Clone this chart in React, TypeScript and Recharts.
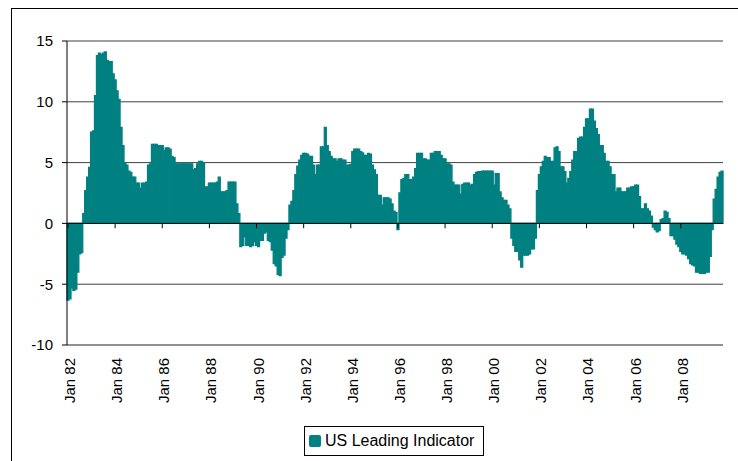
import React from "react";
import {
  BarChart,
  Bar,
  XAxis,
  YAxis,
  CartesianGrid,
  ReferenceLine,
} from "recharts";

const MONTHS = ["Jan", "Feb", "Mar", "Apr", "May", "Jun", "Jul", "Aug", "Sep", "Oct", "Nov", "Dec"];
const START_YEAR = 1982;

// 6-month growth of the US leading indicator, monthly from Jan 82
const VALUES: number[] = [
  -6.3, -6.2, -5.3, -5.5, -5.4, -4.0, -2.5, -2.4, 0.8, 2.7, 3.8, 4.6, // 82
  7.5, 7.6, 10.5, 13.8, 14.0, 13.9, 14.0, 14.1, 13.4, 13.3, 13.3, 12.3, // 83
  11.8, 10.9, 10.2, 7.9, 6.4, 5.0, 4.8, 4.3, 4.2, 3.8, 3.8, 3.3, // 84
  3.3, 2.9, 3.3, 3.3, 3.4, 4.8, 4.9, 6.5, 6.5, 6.5, 6.4, 6.4, // 85
  6.4, 6.0, 6.2, 6.2, 6.1, 5.5, 5.4, 4.9, 4.9, 4.9, 4.9, 5.0, // 86
  4.9, 4.9, 4.9, 4.9, 4.4, 4.5, 4.9, 5.1, 5.1, 5.0, 3.0, 3.0, // 87
  3.3, 3.3, 3.3, 3.3, 3.4, 3.8, 2.6, 2.6, 2.6, 2.7, 3.4, 3.4, // 88
  3.4, 3.4, 1.6, 0.8, -1.9, -1.8, -1.1, -1.8, -1.8, -1.9, -1.8, -1.5, // 89
  -1.8, -1.9, -1.4, -1.4, -0.8, -0.7, -1.4, -1.5, -2.2, -3.3, -3.5, -4.2, // 90
  -4.3, -2.8, -2.6, -1.2, -0.5, 1.5, 1.8, 2.7, 4.0, 4.7, 5.2, 5.6, // 91
  5.75, 5.75, 5.7, 5.5, 5.5, 4.8, 4.0, 4.8, 4.8, 6.3, 6.3, 7.9, // 92
  6.4, 5.9, 5.5, 5.3, 5.3, 5.1, 5.3, 5.3, 5.2, 5.2, 4.8, 4.8, // 93
  4.85, 5.9, 6.1, 6.1, 6.1, 5.9, 5.8, 5.6, 5.6, 5.75, 5.7, 4.8, // 94
  4.4, 4.0, 2.3, 2.3, 1.5, 2.1, 2.1, 2.1, 2.0, 1.6, 1.0, 0.9, // 95
  -0.5, 2.5, 3.6, 3.7, 4.0, 4.0, 3.6, 3.6, 3.8, 4.5, 5.75, 5.75, // 96
  5.75, 5.3, 5.3, 5.2, 5.2, 5.75, 5.75, 5.9, 5.9, 5.9, 5.6, 5.3, // 97
  5.3, 4.9, 4.9, 4.8, 3.4, 3.15, 3.15, 3.15, 2.4, 3.2, 3.3, 3.3, // 98
  3.3, 3.15, 3.2, 4.0, 4.2, 4.25, 4.25, 4.3, 4.3, 4.3, 4.3, 4.3, // 99
  4.3, 3.15, 4.1, 4.1, 2.6, 2.1, 1.9, 1.9, 1.5, 1.2, -1.2, -1.8, // 00
  -2.3, -2.3, -3.0, -3.6, -2.6, -2.6, -2.6, -2.5, -2.1, -2.1, -1.2, 2.7, // 01
  4.0, 4.65, 5.1, 5.5, 5.4, 5.4, 5.1, 5.1, 6.2, 6.3, 5.9, 4.65, // 02
  4.65, 4.25, 3.3, 3.7, 4.25, 5.2, 5.9, 5.9, 7.0, 7.1, 7.1, 7.9, // 03
  8.6, 8.6, 9.4, 9.4, 8.4, 7.8, 7.3, 6.4, 6.4, 5.75, 5.1, 5.1, // 04
  4.65, 4.0, 4.0, 2.6, 2.9, 2.9, 2.6, 2.6, 2.6, 2.9, 2.9, 3.0, // 05
  3.0, 3.15, 3.15, 2.2, 1.2, 1.2, 1.6, 1.2, 1.0, 0.6, -0.3, -0.5, // 06
  -0.7, -0.6, 0.3, 0.4, 1.0, 0.9, 0.4, -1.0, -1.0, -1.3, -1.7, -1.9, // 07
  -2.3, -2.5, -2.5, -2.6, -2.9, -3.3, -3.4, -3.5, -4.0, -4.0, -4.1, -4.1, // 08
  -4.1, -4.0, -4.0, -2.7, -0.5, 2.0, 2.8, 3.8, 4.2, 4.3, // 09
];

const TICK_LABELS = [
  "Jan 82", "Jan 84", "Jan 86", "Jan 88", "Jan 90", "Jan 92", "Jan 94",
  "Jan 96", "Jan 98", "Jan 00", "Jan 02", "Jan 04", "Jan 06", "Jan 08",
];
const Y_TICKS = [-10, -5, 0, 5, 10, 15];

const TEAL = "#008080";
const FONT = "'Liberation Sans', Arial, sans-serif";

const monthLabel = (i: number) =>
  `${MONTHS[i % 12]} ${String((START_YEAR + Math.floor(i / 12)) % 100).padStart(2, "0")}`;

const data = VALUES.map((v, i) => ({ month: monthLabel(i), value: v }));

// label tegak (diputar -90), ujungnya di bawah garis plot
function MonthTick({ x, y, payload }: any) {
  return (
    <text
      x={x}
      y={y}
      transform={`rotate(-90 ${x} ${y})`}
      textAnchor="end"
      dy={7}
      fontSize={15}
      fontFamily={FONT}
      fill="#000"
    >
      {payload.value}
    </text>
  );
}

export default function App() {
  return (
    <div style={{ position: "absolute", left: 0, top: 0, width: 738, height: 461, background: "#fff", overflow: "hidden" }}>
      {/* bingkai luar */}
      <div
        style={{
          position: "absolute",
          left: 11,
          top: 8,
          width: 800,
          height: 600,
          borderLeft: "1px solid #000",
          borderTop: "1px solid #000",
        }}
      />
      <div style={{ position: "absolute", left: 0, top: 0 }}>
        <BarChart
          width={738}
          height={461}
          data={data}
          barCategoryGap={0}
          barGap={0}
          margin={{ top: 41, right: 15, left: 7, bottom: 46 }}
        >
          <CartesianGrid vertical={false} stroke="#404040" />
          <XAxis
            dataKey="month"
            ticks={TICK_LABELS}
            interval={0}
            height={70}
            tickSize={0}
            tickMargin={13}
            tickLine={false}
            axisLine={{ stroke: "#808080" }}
            tick={<MonthTick />}
          />
          <YAxis
            domain={[-10, 15]}
            ticks={Y_TICKS}
            width={60}
            tickSize={5}
            tickMargin={9}
            axisLine={{ stroke: "#000" }}
            tickLine={{ stroke: "#000" }}
            tick={{ fontSize: 15, fontFamily: FONT, fill: "#000" }}
            interval={0}
          />
          <YAxis
            yAxisId="frame"
            orientation="right"
            width={0}
            tick={false}
            tickLine={false}
            axisLine={{ stroke: "#808080" }}
          />
          <Bar
            dataKey="value"
            fill={TEAL}
            stroke={TEAL}
            strokeWidth={1.3}
            isAnimationActive={false}
          />
          <ReferenceLine y={0} stroke="#000" strokeWidth={1} />
          {/* tanda tick kecil di garis nol */}
          {TICK_LABELS.map((t) => (
            <ReferenceLine
              key={t}
              segment={[
                { x: t, y: 0 },
                { x: t, y: -0.4 },
              ]}
              stroke="#000"
            />
          ))}
        </BarChart>
      </div>
      {/* legenda */}
      <div
        style={{
          position: "absolute",
          left: 304,
          top: 426,
          width: 180,
          height: 30,
          boxSizing: "border-box",
          border: "1px solid #000",
          display: "flex",
          alignItems: "center",
          fontFamily: FONT,
          fontSize: 16,
          color: "#000",
          background: "#fff",
        }}
      >
        <span
          style={{
            display: "inline-block",
            width: 12,
            height: 12,
            marginLeft: 4,
            marginRight: 4,
            background: TEAL,
            borderRadius: 2,
          }}
        />
        US Leading Indicator
      </div>
    </div>
  );
}
